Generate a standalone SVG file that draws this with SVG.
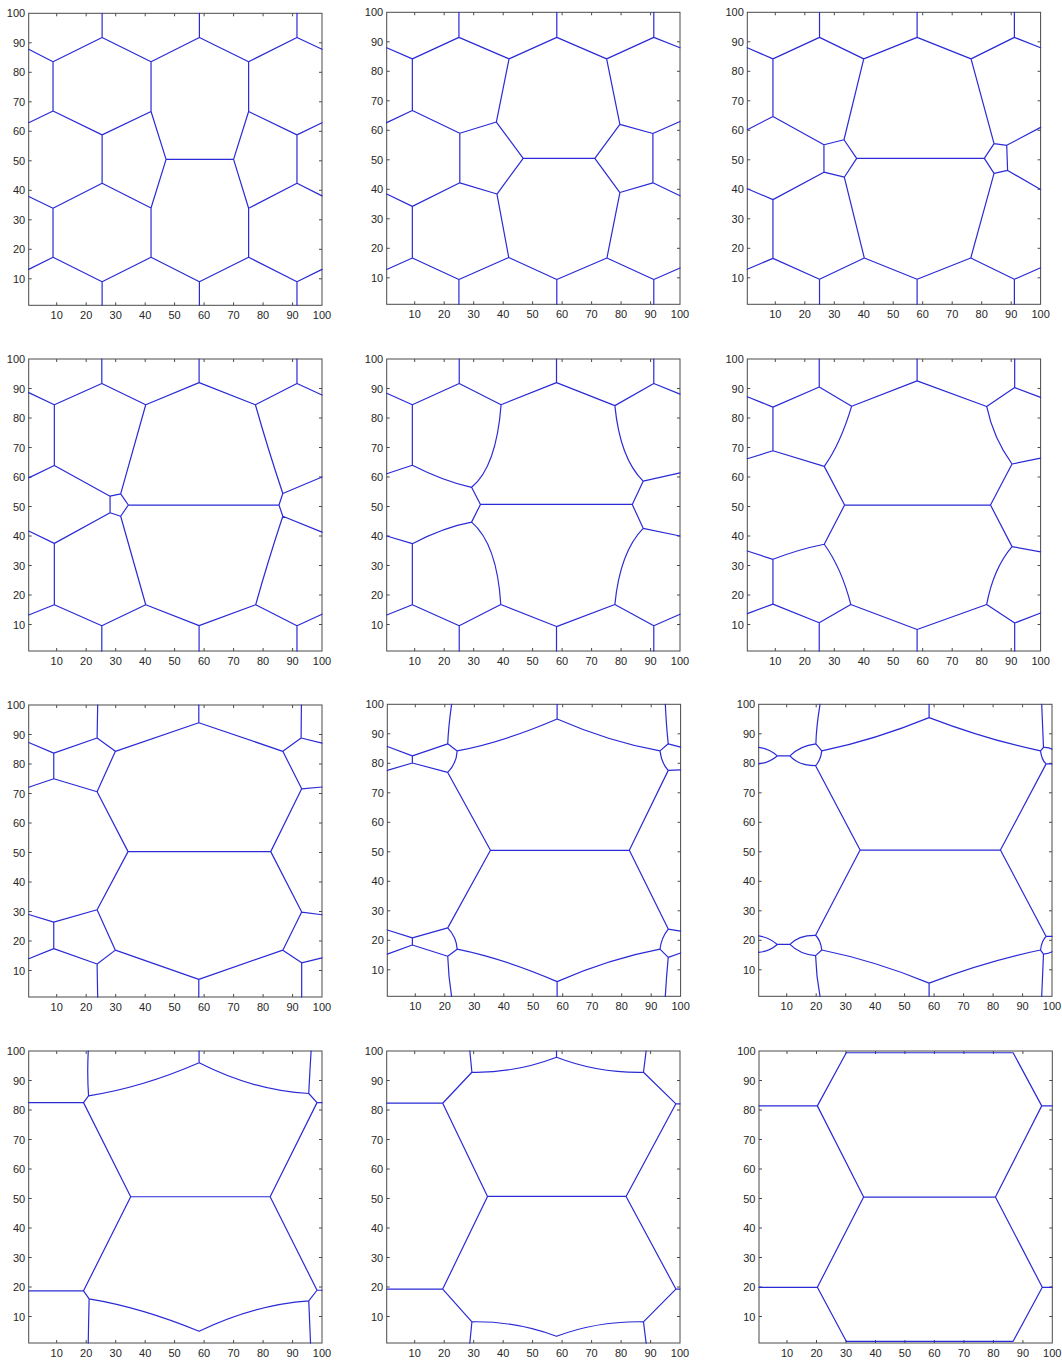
<svg xmlns="http://www.w3.org/2000/svg" xmlns:xlink="http://www.w3.org/1999/xlink" width="1062" height="1362" viewBox="0 0 1062 1362">
<style>
.box{fill:none;stroke:#4a4a4a;stroke-width:1}
.tk{fill:none;stroke:#4a4a4a;stroke-width:1}
.lab{font-family:"Liberation Sans",Arial,sans-serif;font-size:11px;fill:#262626}
.xl{text-anchor:middle}
.yl{text-anchor:end}
.net{fill:none;stroke:#2a2ad6;stroke-width:1.2;stroke-linejoin:round;stroke-linecap:round;vector-effect:non-scaling-stroke}
</style>
<defs>
<g id="axes">
<rect class="box" x="0" y="0" width="293.3" height="292"/>
<path class="tk" d="M28,292v-3M57.5,292v-3M87,292v-3M116.5,292v-3M145.9,292v-3M175.4,292v-3M204.9,292v-3M234.4,292v-3M263.9,292v-3M28,0v3M57.5,0v3M87,0v3M116.5,0v3M145.9,0v3M175.4,0v3M204.9,0v3M234.4,0v3M263.9,0v3M0,29.5h3M0,59h3M0,88.5h3M0,118h3M0,147.5h3M0,177h3M0,206.5h3M0,236h3M0,265.5h3M293.3,29.5h-3M293.3,59h-3M293.3,88.5h-3M293.3,118h-3M293.3,147.5h-3M293.3,177h-3M293.3,206.5h-3M293.3,236h-3M293.3,265.5h-3"/>
<g class="lab xl">
<text x="28" y="305.5">10</text><text x="57.5" y="305.5">20</text><text x="87" y="305.5">30</text><text x="116.5" y="305.5">40</text><text x="145.9" y="305.5">50</text><text x="175.4" y="305.5">60</text><text x="204.9" y="305.5">70</text><text x="234.4" y="305.5">80</text><text x="263.9" y="305.5">90</text><text x="293.3" y="305.5">100</text>
</g>
<g class="lab yl">
<text x="-3.5" y="4">100</text><text x="-3.5" y="33.5">90</text><text x="-3.5" y="63">80</text><text x="-3.5" y="92.5">70</text><text x="-3.5" y="122">60</text><text x="-3.5" y="151.5">50</text><text x="-3.5" y="181">40</text><text x="-3.5" y="210.5">30</text><text x="-3.5" y="240">20</text><text x="-3.5" y="269.5">10</text>
</g>
</g>
</defs>
<rect x="0" y="0" width="1062" height="1362" fill="#ffffff"/>

<g id="panel-1" transform="translate(28.7,13.3)">
<use xlink:href="#axes" href="#axes"/>
<path class="net" transform="translate(-1.474,295) scale(2.948,-2.95)" d="M25.4,100L25.4,91.8L8.75,83.6L0.5,87.8M8.75,83.6L8.75,66.9L0.5,62.9M8.75,66.9L25.4,58.8L25.4,42.4L8.75,33.9L0.5,37.9M8.75,33.9L8.75,17.3L0.5,13.2M8.75,17.3L25.4,9L25.4,1M25.4,91.8L42,83.6L42,66.7L25.4,58.8M42,66.7L47.1,50.5L70,50.5M42,83.6L58.4,91.8L58.4,100M58.4,91.8L75.1,83.6L75.1,66.7L70,50.5M75.1,83.6L91.5,91.8L91.5,100M91.5,91.8L100,87.8M75.1,66.7L91.5,58.8L100,62.9M91.5,58.8L91.5,42.4L100,38.1M25.4,42.4L42,34L47.1,50.5M42,34L42,17.3L25.4,9M42,17.3L58.4,9L58.4,1M58.4,9L75.1,17.3L75.1,33.9L70,50.5M75.1,33.9L91.5,42.4M75.1,17.3L91.5,9L91.5,1M91.5,9L100,13.2"/>
</g>

<g id="panel-2" transform="translate(386.7,12.3)">
<use xlink:href="#axes" href="#axes"/>
<path class="net" transform="translate(-1.474,295) scale(2.948,-2.95)" d="M25,100L25,91.5L9.2,84.2L0.5,88M9.2,84.2L9.2,66.7L0.5,62.6M9.2,66.7L25.3,59L25.3,42.2L9.2,34.2L0.5,38.4M9.2,34.2L9.2,16.7L0.5,12.8M9.2,16.7L25,9.4L25,1M25,91.5L42,84.2L37.7,62.8L25.3,59M37.7,62.8L46.8,50.5L71.1,50.5M42,84.2L58.2,91.5L58.2,100M58.2,91.5L75.1,84.2L79.6,62L71.1,50.5M75.1,84.2L91.1,91.5L91.1,100M91.1,91.5L100,88M79.6,62L90.8,58.9L100,63M90.8,58.9L90.8,42.2L100,37.8M90.8,42.2L79.6,38.9L71.1,50.5M79.6,38.9L75.2,16.7L58.2,9.4L58.2,1M75.2,16.7L91.1,9.4L91.1,1M91.1,9.4L100,13.3M58.2,9.4L41.9,16.9L37.9,38.4L46.8,50.5M37.9,38.4L25.3,42.2M41.9,16.9L25,9.4"/>
</g>

<g id="panel-3" transform="translate(747.3,12.3)">
<use xlink:href="#axes" href="#axes"/>
<path class="net" transform="translate(-1.474,295) scale(2.948,-2.95)" d="M25,100L25,91.5L9.2,84.2L0.5,88M9.2,84.2L9.2,64.7L0.5,60.2M9.2,64.7L26.5,55.1L26.5,45.8L9.2,36.5L0.5,40.2M9.2,36.5L9.2,16.6L0.5,12.9M9.2,16.6L25,9.5L25,1M25,91.5L40,84.2L33.3,56.8L26.5,55.1M33.3,56.8L37.6,50.5L80.9,50.5M26.5,45.8L33.4,44.1L37.6,50.5M40,84.2L58.1,91.5L58.1,100M58.1,91.5L76.4,84.2L84.2,55.5L80.9,50.5M84.2,55.5L88.5,54.9L88.8,46.4L84.2,45.4L80.9,50.5M76.4,84.2L91.1,91.5L91.1,100M91.1,91.5L100,88M88.5,54.9L100,61M88.8,46.4L100,39.9M33.4,44.1L40.2,16.7L25,9.5M40.2,16.7L58.1,9.5L58.1,1M58.1,9.5L76.3,16.7L84.2,45.4M76.3,16.7L91.1,9.5L91.1,1M91.1,9.5L100,13.4"/>
</g>

<g id="panel-4" transform="translate(28.7,359)">
<use xlink:href="#axes" href="#axes"/>
<path class="net" transform="translate(-1.474,295) scale(2.948,-2.95)" d="M25.3,100L25.3,91.7L9.2,84.5L0.5,88.6M9.2,84.5L9.2,63.9L0.5,59.7M9.2,63.9L28.1,53.5L28.1,47.9L9.2,37.5L0.5,41.7M9.2,37.5L9.2,16.7L0.5,13.2M9.2,16.7L25.3,9.6L25.3,1M25.3,91.7L40.2,84.5L31.7,54.3L28.1,53.5M31.7,54.3L34.3,50.5L85.4,50.5M28.1,47.9L31.7,46.7L34.3,50.5M40.2,84.5L58.3,92L58.3,100M58.3,92L77.4,84.5Q81.5,70 86.7,54.4L85.4,50.5M86.7,54.4L100,60M85.4,50.5L86.7,46.7L100,41.3M77.4,84.5L91.5,91.7L91.5,100M91.5,91.7L100,87.8M31.7,46.7L40.2,16.7L25.3,9.6M40.2,16.7L58.3,9.6L58.3,1M58.3,9.6L77.5,16.7Q81.5,31 86.7,46.7M77.5,16.7L91.5,9.6L91.5,1M91.5,9.6L100,13.5"/>
</g>

<g id="panel-5" transform="translate(386.7,359)">
<use xlink:href="#axes" href="#axes"/>
<path class="net" transform="translate(-1.474,295) scale(2.948,-2.95)" d="M25.1,100L25.1,91.7L9.2,84.5L0.5,88.4M9.2,84.5L9.2,64L0.5,61.1M9.2,64Q20,58.5 29.3,56.5L32.3,50.7L83.8,50.7M25.1,91.7L39.3,84.5C38.5,74 36,62 29.3,56.5M32.3,50.7L29.3,44.7Q20,43 9.2,37.4L0.5,40M9.2,37.4L9.2,16.7L0.5,13.2M9.2,16.7L25.1,9.6L25.1,1M25.1,9.6L39.2,16.8C38.5,28 36,39 29.3,44.7M39.2,16.8L58.1,9.3L58.1,1M58.1,9.3L77.9,16.8C79,28 82,37 87.5,42.6L83.8,50.7L87.5,58.6C82,64 79,73 77.9,84.2L58.1,92L58.1,100M58.1,92L39.3,84.5M87.5,42.6L100,40M87.5,58.6L100,61.4M77.9,84.2L91.1,91.7L91.1,100M91.1,91.7L100,88.1M77.9,16.8L91.1,9.6L91.1,1M91.1,9.6L100,13.5"/>
</g>

<g id="panel-6" transform="translate(747.3,359)">
<use xlink:href="#axes" href="#axes"/>
<path class="net" transform="translate(-1.474,295) scale(2.948,-2.95)" d="M24.9,100L24.9,90.5L9.2,83.7L0.5,87.2M9.2,83.7L9.2,68.9L0.5,66.2M9.2,68.9L26.6,63.6M24.9,90.5L35.9,84Q32,71 26.6,63.6L33.5,50.5L83,50.5M33.5,50.5L26.6,37.2Q18,35.5 9.2,32.1L0.5,34.9M9.2,32.1L9.2,16.9L0.5,13.7M9.2,16.9L24.9,10.6L24.9,1M24.9,10.6L35.6,16.8Q32.5,29 26.6,37.2M35.6,16.8L58.1,8.3L58.1,1M58.1,8.3L81.7,16.8Q84,29 90.3,36.4L83,50.5L90.3,64.4Q84,73 81.7,83.9L58.1,92.6L58.1,100M58.1,92.6L35.9,84M90.3,36.4L100,34.6M90.3,64.4L100,66.4M81.7,83.9L91.2,90.3L91.2,100M91.2,90.3L100,87M81.7,16.8L91.2,10.5L91.2,1M91.2,10.5L100,13.9"/>
</g>

<g id="panel-7" transform="translate(28.7,705)">
<use xlink:href="#axes" href="#axes"/>
<path class="net" transform="translate(-1.474,295) scale(2.948,-2.95)" d="M23.9,100L23.7,88.8L9,83.7L0.5,87.3M9,83.7L9,75L0.5,72.1M9,75L23.7,70.6M23.7,88.8L29.9,84.3L23.7,70.6L34.2,50.3L82.6,50.3M29.9,84.3L58.2,94L58.2,100M58.2,94L86.7,84.3L92.9,88.8L93,100M92.9,88.8L100,87.1M86.7,84.3L93.1,71.6L100,72.2M93.1,71.6L82.6,50.3M34.2,50.3L23.7,30.6L9,26.4L0.5,29M9,26.4L9,17.4L0.5,14M9,17.4L23.7,12.2L23.9,1M23.7,30.6L29.9,16.9L23.7,12.2M29.9,16.9L58.2,7L58.2,1M58.2,7L86.7,16.9L93.1,29.8L82.6,50.3M93.1,29.8L100,28.9M86.7,16.9L93.1,12.6L93.1,1M93.1,12.6L100,14.3"/>
</g>

<g id="panel-8" transform="translate(387.3,704.3)">
<use xlink:href="#axes" href="#axes"/>
<path class="net" transform="translate(-1.474,295) scale(2.948,-2.95)" d="M22.3,100Q21.2,92 21,86.6L9,82.5L0.5,85.7M9,82.5L9,80.1L0.5,77.6M9,80.1L21,76.9M21,86.6L24.2,84.2Q24,80 21,76.9L35.5,50.5L82.6,50.5M24.2,84.2Q40,87.2 58.1,95L58.1,100M58.1,95Q76,87.2 93,84.2L95.8,86.6Q95.2,92 94.8,100M95.8,86.6L100,85.5M93,84.2Q93.5,80 95.8,77.6L100,77.8M95.8,77.6L82.6,50.5M35.5,50.5L21,24.2L9,20.8L0.5,23.5M9,20.8L9,18.4L0.5,15.3M9,18.4L21,14.6Q21.2,8 22.3,1M21,24.2Q24,21 24.2,17L21,14.6M24.2,17Q40,13.8 58.1,6L58.1,1M58.1,6Q76,13.8 93,17Q93.5,21 95.8,23.8L82.6,50.5M95.8,23.8L100,23.1M93,17L95.8,14.2Q95.2,8 94.8,1M95.8,14.2L100,15.7"/>
</g>

<g id="panel-9" transform="translate(758.7,704.3)">
<use xlink:href="#axes" href="#axes"/>
<path class="net" transform="translate(-1.474,295) scale(2.948,-2.95)" d="M0.5,85.4Q4,85 6.8,82.5Q4,80.2 0.5,79.8M6.8,82.5L11.1,82.5Q14.5,86 19.9,86.6M11.1,82.5Q14,79.2 19.8,79.2M21.3,100Q20,92 19.9,86.6L21.9,84.2Q21.5,81 19.8,79.2L34.9,50.6L82.5,50.6M21.9,84.2Q40,88 58.3,95.5L58.3,100M58.3,95.5Q78,88 96.1,84.2L97.1,85.4Q96.8,93 96.5,100M97.1,85.4Q99,85.5 100,84.8M96.1,84.2Q96.5,81 98,79.8L100,79.8M98,79.8L82.5,50.6M0.5,21.5Q4,21 6.8,18.6Q4,16.2 0.5,15.9M6.8,18.6L11.1,18.6Q14,21.8 19.8,21.7M11.1,18.6Q14.5,15.2 19.8,14.8M19.8,21.7Q21.5,20 21.9,16.7L19.8,14.8Q20,8 21.3,1M19.8,21.7L34.9,50.6M21.9,16.7Q40,13 58.3,5.5L58.3,1M58.3,5.5Q78,13 96.1,16.7Q96.5,20 98,21.3L100,21.3M98,21.3L82.5,50.6M96.1,16.7L97.1,15.3Q96.8,8 96.5,1M97.1,15.3Q99,15.5 100,16.1"/>
</g>

<g id="panel-10" transform="translate(28.7,1051)">
<use xlink:href="#axes" href="#axes"/>
<path class="net" transform="translate(-1.474,295) scale(2.948,-2.95)" d="M0.5,82.5L19.1,82.5L20.8,84.8Q20.3,92 20.7,100M20.8,84.8Q39,87.6 58.3,96L58.3,100M58.3,96Q77,86.5 95.5,85.6Q95.8,92 96.3,100M95.5,85.6L98.3,82.5L100,82.5M19.1,82.5L35.1,50.6L82.4,50.6L98.3,82.5M0.5,18.7L19.1,18.7L21,16Q20.8,8 20.7,1M21,16Q39,13 58.3,5M58.3,5Q77,14 95.5,15.3Q95.8,8 96.1,1M95.5,15.3L98.3,18.9L100,18.9M19.1,18.7L35.1,50.6M82.4,50.6L98.3,18.9"/>
</g>

<g id="panel-11" transform="translate(386.7,1051)">
<use xlink:href="#axes" href="#axes"/>
<path class="net" transform="translate(-1.474,295) scale(2.948,-2.95)" d="M0.5,82.3L19.5,82.3L29.4,92.8L28.7,100M29.4,92.8Q44,92.5 58.1,97.9L58.1,100M58.1,97.9Q72,92.5 87.6,92.8L88.5,100M87.6,92.8L98.6,82.1L100,82.1M19.5,82.3L34.7,50.7L81.7,50.7L98.6,82.1M0.5,19.3L19.5,19.3L29.4,8.2L28.7,1M29.4,8.2Q44,8.5 58.1,3.3M58.1,3.3Q72,8.5 87.6,8.2L88.5,1M87.6,8.2L98.6,19.3L100,19.3M19.5,19.3L34.7,50.7M81.7,50.7L98.6,19.3"/>
</g>

<g id="panel-12" transform="translate(759,1051)">
<use xlink:href="#axes" href="#axes"/>
<path class="net" transform="translate(-1.474,295) scale(2.948,-2.95)" d="M0.5,81.4L20.3,81.4L30.1,99.4L86.7,99.4L96.4,81.4L100,81.4M20.3,81.4L36,50.5L80.7,50.5L96.4,81.4M0.5,19.9L20.3,19.9L30.1,1.6L86.7,1.6L96.6,19.9L100,19.9M20.3,19.9L36,50.5M80.7,50.5L96.6,19.9"/>
</g>
</svg>
